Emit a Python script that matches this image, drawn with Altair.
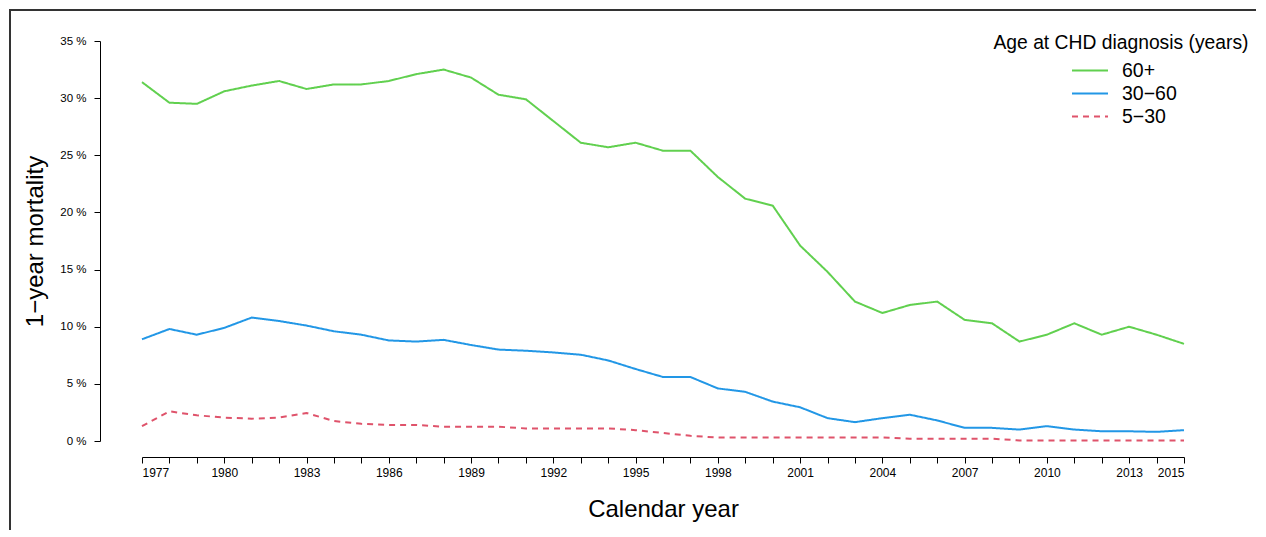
import altair as alt
import pandas as pd

years = list(range(1977, 2016))
groups = ["60+", "30−60", "5−30"]
colors = ["#61D04F", "#2297E6", "#DF536B"]

m60 = [31.4, 29.6, 29.5, 30.6, 31.1, 31.5, 30.8, 31.2, 31.2, 31.5,
       32.1, 32.5, 31.8, 30.3, 29.9, 28.0, 26.1, 25.7, 26.1, 25.4,
       25.4, 23.1, 21.2, 20.6, 17.1, 14.8, 12.2, 11.2, 11.9, 12.2,
       10.6, 10.3, 8.7, 9.3, 10.3, 9.3, 10.0, 9.3, 8.5]
m30 = [8.9, 9.8, 9.3, 9.9, 10.8, 10.5, 10.1, 9.6, 9.3, 8.8,
       8.7, 8.85, 8.4, 8.0, 7.9, 7.75, 7.55, 7.05, 6.3, 5.6,
       5.6, 4.6, 4.3, 3.45, 2.95, 2.0, 1.65, 2.0, 2.3, 1.8,
       1.15, 1.15, 1.0, 1.3, 1.0, 0.85, 0.85, 0.8, 0.95]
m5 = [1.3, 2.6, 2.25, 2.05, 1.95, 2.05, 2.45, 1.75, 1.5, 1.4,
      1.4, 1.25, 1.25, 1.25, 1.1, 1.1, 1.1, 1.1, 0.95, 0.7,
      0.45, 0.3, 0.3, 0.3, 0.3, 0.3, 0.3, 0.3, 0.2, 0.2,
      0.2, 0.2, 0.05, 0.05, 0.05, 0.05, 0.05, 0.05, 0.05]

y_ticks = [0, 5, 10, 15, 20, 25, 30, 35]
legend_title = "Age at CHD diagnosis (years)"

rows = []
for name, vals in zip(groups, [m60, m30, m5]):
    for yr, v in zip(years, vals):
        rows.append({"year": yr, "mort": v, "group": name})
df = pd.DataFrame(rows)

FONT = "Liberation Sans"
W, H = 1042, 400

leg = dict(title=None, orient="none", legendX=929, legendY=18,
           symbolType="stroke", symbolSize=1296, symbolStrokeWidth=2,
           clipHeight=23, rowPadding=0, labelOffset=13, labelFontSize=19.5, padding=0)

lines = alt.Chart(df).mark_line(strokeWidth=2).encode(
    x=alt.X("year:Q",
            scale=alt.Scale(domain=[1977, 2015], nice=False, zero=False),
            axis=alt.Axis(values=years, format="d",
                          labelExpr="((datum.value - 1977) % 3 == 0 || datum.value == 2015) ? datum.label : ''",
                          labelOverlap=False, offset=16, tickSize=6, labelPadding=4,
                          labelFontSize=12, title="Calendar year", titleFontSize=24,
                          titlePadding=19, grid=False)),
    y=alt.Y("mort:Q",
            scale=alt.Scale(domain=[0, 35], nice=False, zero=False),
            axis=alt.Axis(values=y_ticks, labelExpr="datum.value + ' %'",
                          offset=42, tickSize=6, labelPadding=8, labelFontSize=11.5,
                          title="1−year mortality", titleFontSize=24,
                          titlePadding=12, grid=False)),
    color=alt.Color("group:N", scale=alt.Scale(domain=groups, range=colors),
                    legend=alt.Legend(**leg)),
    strokeDash=alt.StrokeDash("group:N",
                              scale=alt.Scale(domain=groups, range=[[1, 0], [1, 0], [6, 5]]),
                              legend=alt.Legend(**leg)),
)

title_text = alt.Chart(pd.DataFrame({"t": [legend_title]})).mark_text(
    fontSize=19.3, align="center", baseline="middle", font=FONT, color="#000"
).encode(text="t:N", x=alt.value(979), y=alt.value(2))

frame_left = alt.Chart(pd.DataFrame({"t": [0]})).mark_rule(color="#333", strokeWidth=2).encode(
    x=alt.value(-132), y=alt.value(-32), y2=alt.value(489))
frame_top = alt.Chart(pd.DataFrame({"t": [0]})).mark_rule(color="#333", strokeWidth=2).encode(
    x=alt.value(-133), x2=alt.value(1114), y=alt.value(-31))

chart = alt.layer(lines, title_text, frame_left, frame_top).properties(
    width=W, height=H, padding=0
).configure_view(stroke=None).configure_axis(
    labelFont=FONT, titleFont=FONT, labelColor="#000", titleColor="#000",
    domainColor="#000", tickColor="#000", titleFontWeight="normal"
).configure_legend(labelFont=FONT, labelColor="#000").configure_text(font=FONT)

chart.save("out.html", embed_options={"renderer": "svg", "actions": False})
